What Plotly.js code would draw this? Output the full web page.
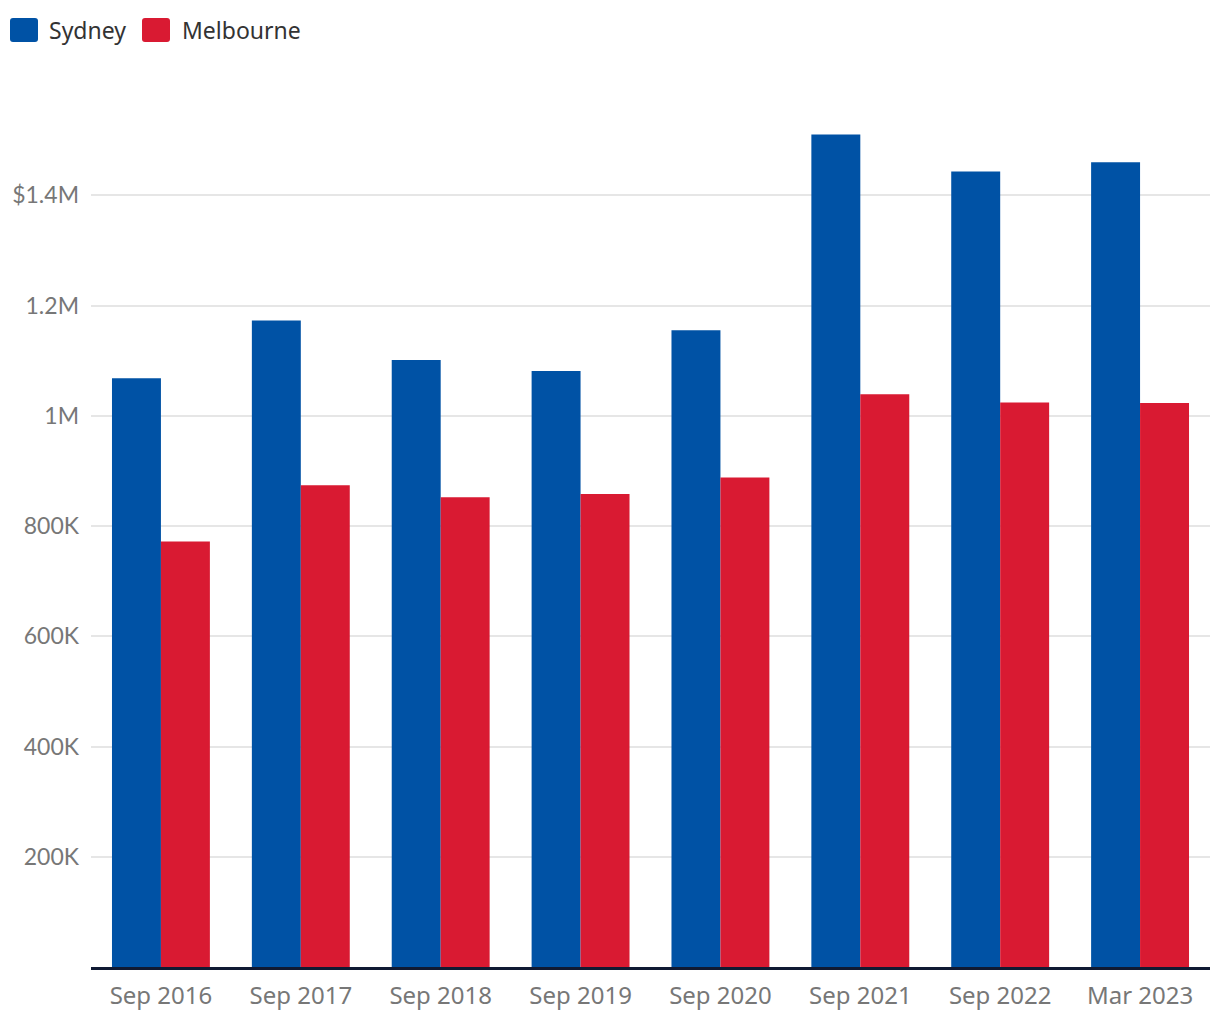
<!DOCTYPE html>
<html>
<head>
<meta charset="utf-8">
<script src="https://cdn.plot.ly/plotly-3.0.1.min.js"></script>
<style>html,body{margin:0;padding:0;background:#fff;}#chart{width:1220px;height:1020px;}</style>
</head>
<body>
<div id="chart"></div>
<script>
const categories = ["Sep 2016","Sep 2017","Sep 2018","Sep 2019","Sep 2020","Sep 2021","Sep 2022","Mar 2023"];
const sydney = [1068000,1173000,1101000,1081000,1155000,1510000,1443000,1460000];
const melbourne = [772000,874000,852000,858000,888000,1039000,1024000,1023000];
const yTickVals = [200000,400000,600000,800000,1000000,1200000,1400000];
const yTickText = ["200K","400K","600K","800K","1M","1.2M","$1.4M"];
const seriesNames = ["Sydney","Melbourne"];
const seriesColors = ["#0052A5","#D91A32"];

const traces = [
  {type:"bar", name:seriesNames[0], x:categories, y:sydney, marker:{color:seriesColors[0]}, hoverinfo:"skip"},
  {type:"bar", name:seriesNames[1], x:categories, y:melbourne, marker:{color:seriesColors[1]}, hoverinfo:"skip"}
];

// custom legend (container pixel coordinates -> paper coords)
const W = 1220, H = 1020, L = 91, R = 10, T = 85, B = 53;
const pw = W - L - R, ph = H - T - B;
const px = x => (x - L) / pw;
const py = y => (H - B - y) / ph;
function roundRect(x0, y0, x1, y1, r) {
  const X0 = px(x0), X1 = px(x1), Y0 = py(y0), Y1 = py(y1);
  const rx = r / pw, ry = r / ph;
  return `M${X0+rx},${Y0} L${X1-rx},${Y0} Q${X1},${Y0} ${X1},${Y0-ry} L${X1},${Y1+ry} Q${X1},${Y1} ${X1-rx},${Y1} L${X0+rx},${Y1} Q${X0},${Y1} ${X0},${Y1+ry} L${X0},${Y0-ry} Q${X0},${Y0} ${X0+rx},${Y0} Z`;
}
const legendSwatchX = [10, 142];
const legendTextX = [47, 180];
const shapes = seriesNames.map((n, i) => ({
  type:"path", xref:"paper", yref:"paper", path: roundRect(legendSwatchX[i], 18, legendSwatchX[i] + 28, 42, 3),
  fillcolor: seriesColors[i], line:{width:0}
}));
const annotations = seriesNames.map((n, i) => ({
  xref:"paper", yref:"paper", x: px(legendTextX[i]), y: py(30), xanchor:"left", yanchor:"middle",
  text:n, showarrow:false, font:{family:"Noto Sans, sans-serif", size:23, color:"#333"}
}));

const layout = {
  width:W, height:H,
  margin:{l:L, r:R, t:T, b:B},
  paper_bgcolor:"#fff", plot_bgcolor:"#fff",
  barmode:"group", bargap:0.3, bargroupgap:0,
  showlegend:false,
  shapes:shapes, annotations:annotations,
  xaxis:{type:"category", showgrid:false, showline:true, linecolor:"#101a33", linewidth:3,
         ticks:"", ticklabelstandoff:5,
         tickfont:{family:"Noto Sans, sans-serif", size:24, color:"#777"}},
  yaxis:{range:[0,1600000], tickvals:yTickVals, ticktext:yTickText, showgrid:true,
         gridcolor:"#e6e6e6", gridwidth:2, zeroline:false, showline:false, ticks:"",
         ticklabelstandoff:11,
         tickfont:{family:"Lato, sans-serif", size:23, color:"#777"}}
};
Plotly.newPlot("chart", traces, layout, {displayModeBar:false, staticPlot:true});
</script>
</body>
</html>
